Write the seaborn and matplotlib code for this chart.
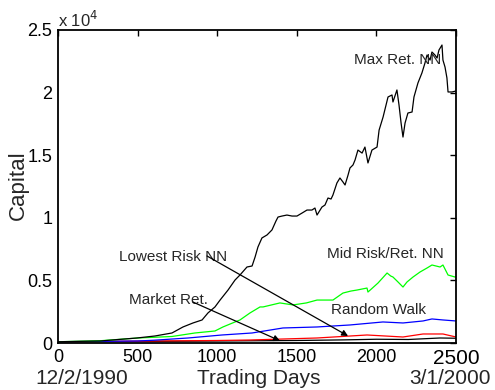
import matplotlib
matplotlib.use("Agg")
import matplotlib.pyplot as plt
import seaborn as sns
import pandas as pd

# ---- data: capital over trading days ----
max_days = [0, 264, 496, 609, 716, 785, 848, 905, 942, 986, 1018, 1068, 1112, 1143,
            1187, 1219, 1238, 1256, 1281, 1313, 1344, 1369, 1382, 1407, 1438, 1470,
            1501, 1533, 1564, 1595, 1614, 1627, 1658, 1677, 1696, 1715, 1727, 1752,
            1771, 1790, 1803, 1822, 1834, 1853, 1866, 1884, 1910, 1928, 1947, 1972,
            2004, 2017, 2042, 2073, 2098, 2104, 2129, 2142, 2155, 2167, 2180, 2198,
            2224, 2236, 2261, 2286, 2305, 2318, 2337, 2349, 2368, 2381, 2393, 2412,
            2418, 2431, 2443, 2450, 2475, 2500]
max_vals = [100, 160, 400, 560, 800, 1280, 1600, 1840, 2400, 2880, 3430, 4230, 5030, 5430,
            6070, 6150, 6870, 7670, 8390, 8630, 9030, 9740, 10060, 10140, 10220, 10140,
            10140, 10380, 10620, 10620, 10780, 10220, 10860, 11020, 11580, 11500, 11820, 12780,
            13180, 12860, 12620, 13420, 13980, 14220, 14620, 15410, 15170, 15650, 14380, 15410,
            15650, 17010, 18050, 19650, 19810, 19250, 20210, 19010, 17570, 16450, 17570, 18370,
            18450, 19650, 20770, 21570, 22360, 23000, 22600, 23240, 23000, 22760, 23400, 23800,
            22600, 22040, 21170, 20050, 20050, 20130]

mid_days = [0, 264, 503, 716, 860, 986, 1036, 1112, 1143, 1206, 1269, 1288, 1394, 1476,
            1560, 1627, 1727, 1790, 1840, 1878, 1941, 1947, 2010, 2067, 2090, 2104, 2136,
            2167, 2192, 2230, 2274, 2318, 2349, 2400, 2418, 2450, 2494, 2500]
mid_vals = [100, 180, 400, 520, 800, 960, 1280, 1680, 1840, 2400, 2880, 2880, 3200, 3040,
            3200, 3430, 3430, 3990, 4150, 4230, 4390, 4070, 4790, 5590, 5350, 5270, 4870,
            4470, 4870, 5270, 5670, 5990, 6230, 6070, 6230, 5430, 5270, 5300]

rw_days = [0, 500, 600, 817, 1030, 1219, 1413, 1627, 1834, 2041, 2167, 2293, 2349, 2418, 2500]
rw_vals = [100, 160, 220, 400, 640, 800, 1200, 1280, 1440, 1680, 1600, 1760, 1920, 1840, 1760]

low_days = [0, 500, 1000, 1206, 1627, 1941, 2167, 2293, 2418, 2500]
low_vals = [100, 150, 200, 240, 400, 640, 480, 720, 720, 480]

mkt_days = [0, 500, 1000, 1500, 1800, 2000, 2200, 2400, 2500]
mkt_vals = [100, 120, 160, 200, 250, 300, 280, 400, 380]

series_names = ["Market Ret.", "Lowest Risk NN", "Random Walk", "Mid Risk/Ret. NN", "Max Ret. NN"]
series_colors = ["#000000", "#ff0000", "#0000ff", "#00ff00", "#000000"]

x_ticks = [0, 500, 1000, 1500, 2000, 2500]
y_ticks = [0, 5000, 10000, 15000, 20000, 25000]
y_tick_labels = ["0", "0.5", "1", "1.5", "2", "2.5"]

frames = []
for name, d, v in zip(series_names,
                      [mkt_days, low_days, rw_days, mid_days, max_days],
                      [mkt_vals, low_vals, rw_vals, mid_vals, max_vals]):
    frames.append(pd.DataFrame({"day": d, "capital": v, "series": name}))
df = pd.concat(frames, ignore_index=True)

# ---- style ----
sns.set_theme(style="white")
plt.rcParams["font.family"] = ["Liberation Sans", "DejaVu Sans"]

fig = plt.figure(figsize=(4.95, 3.9), dpi=100)
ax = fig.add_axes([58 / 495, 1 - 343 / 390, (456 - 58) / 495, (343 - 30) / 390])

sns.lineplot(data=df, x="day", y="capital", hue="series", hue_order=series_names,
             palette=dict(zip(series_names, series_colors)), estimator=None,
             sort=True, linewidth=0.9, legend=False, ax=ax)

ax.set_xlim(0, 2500)
ax.set_ylim(0, 25000)
ax.set_xticks(x_ticks)
ax.set_xticklabels([str(t) for t in x_ticks])
ax.set_yticks(y_ticks)
ax.set_yticklabels(y_tick_labels)
ax.set_xlabel("")
ax.set_ylabel("")
ax.tick_params(direction="in", length=4, width=1, colors="black",
               top=True, right=True, labelsize=13, pad=4)
for lab in ax.get_xticklabels():
    if lab.get_text() == "2500":
        lab.set_fontsize(15)
for sp in ax.spines.values():
    sp.set_visible(True)
    sp.set_color("black")
    sp.set_linewidth(1.3)

# ---- curve labels and pointers ----
ax.text(2136, 22600, "Max Ret. NN", ha="center", va="center", fontsize=11)
ax.text(2054, 7110, "Mid Risk/Ret. NN", ha="center", va="center", fontsize=11)
ax.text(2016, 2640, "Random Walk", ha="center", va="center", fontsize=11)
ax.text(722, 6870, "Lowest Risk NN", ha="center", va="center", fontsize=11)
ax.text(691, 3430, "Market Ret.", ha="center", va="center", fontsize=11)

arrow_style = dict(arrowstyle="-|>", color="black", lw=0.9, mutation_scale=9,
                   shrinkA=0, shrinkB=0)
ax.annotate("", xy=(1822, 560), xytext=(936, 6950), arrowprops=arrow_style)
ax.annotate("", xy=(1394, 180), xytext=(848, 3270), arrowprops=arrow_style)

# ---- axis titles ----
fig.text(58 / 495, 1 - 20 / 390, "x 10$^{4}$", ha="left", va="center", fontsize=12)
fig.text(18 / 495, 1 - 185 / 390, "Capital", rotation=90, ha="center", va="center", fontsize=16)
fig.text(259 / 495, 1 - 378 / 390, "Trading Days", ha="center", va="center", fontsize=15)
fig.text(82 / 495, 1 - 378 / 390, "12/2/1990", ha="center", va="center", fontsize=15)
fig.text(450 / 495, 1 - 378 / 390, "3/1/2000", ha="center", va="center", fontsize=15)

fig.savefig("out.png", dpi=100, facecolor="white")
